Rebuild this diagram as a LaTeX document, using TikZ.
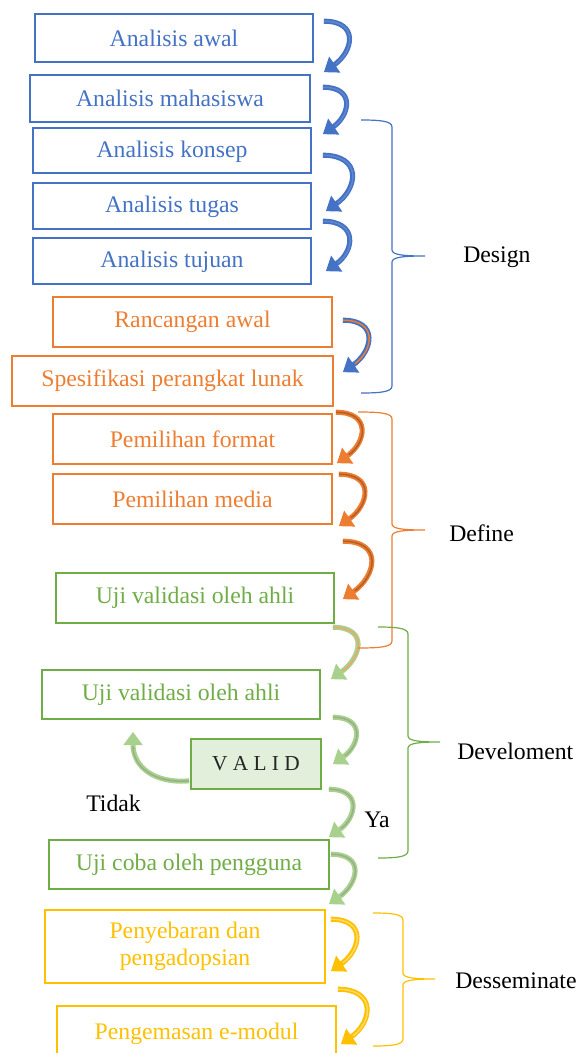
\documentclass[tikz,border=0pt]{standalone}
\usepackage{fontspec}
\setmainfont{Liberation Serif}
\usetikzlibrary{arrows.meta, positioning, calc}
\definecolor{Biru}{RGB}{68,114,196}
\definecolor{Oranye}{RGB}{237,125,49}
\definecolor{Hijau}{RGB}{112,173,71}
\definecolor{HijauMuda}{RGB}{169,209,142}
\definecolor{HijauIsi}{RGB}{226,239,218}
\definecolor{Emas}{RGB}{255,192,0}

\begin{document}
\begin{tikzpicture}[
  x=0.75pt, y=0.75pt,
  font=\fontsize{17.8}{20}\selectfont,
  tahap/.style={draw=#1, text=#1, line width=1.2pt, inner sep=0pt,
                minimum width=208.5pt, minimum height=36pt, align=center},
  rendah/.style={text height=1em, text depth=0pt},
  panah/.style 2 args={draw=#1, line width=3.8pt, looseness=1.8,
                       -{Triangle[width=14pt,length=10pt]},
                       postaction={draw=#2, line width=1.1pt, -, shorten >=11pt}},
  kurung/.style={draw=#1, line width=0.9pt},
  lbl/.style={anchor=west, inner sep=0pt, text=black}
]
\useasboundingbox (0,0) rectangle (578,-1053);

% kotak-kotak tahapan
\node[tahap=Biru] (awal)      at (174,-38)   {Analisis awal};
\node[tahap=Biru, minimum width=210pt, minimum height=35.25pt]
                  (mahasiswa) at (170,-98.5) {Analisis mahasiswa};
\node[tahap=Biru, rendah, minimum height=33.75pt]
                  (konsep)    at (172,-150.5) {Analisis konsep};
\node[tahap=Biru, rendah, minimum height=34.5pt]
                  (tugas)     at (172,-206)  {Analisis tugas};
\node[tahap=Biru, rendah, minimum height=34.5pt]
                  (tujuan)    at (172,-261)  {Analisis tujuan};
\node[tahap=Oranye, minimum width=209.25pt, minimum height=37.5pt]
                  (rancangan) at (192.5,-322) {Rancangan awal};
\node[tahap=Oranye, minimum width=240.75pt, minimum height=37.5pt]
                  (spesifikasi) at (172.5,-381) {Spesifikasi perangkat lunak};
\node[tahap=Oranye, minimum width=209.25pt, minimum height=37.5pt]
                  (format)    at (192.5,-439) {Pemilihan format};
\node[tahap=Oranye, minimum width=209.25pt, minimum height=37.5pt]
                  (media)     at (192.5,-499) {Pemilihan media};
\node[tahap=Hijau, minimum height=37.5pt]
                  (uji1)      at (195,-598)  {Uji validasi oleh ahli};
\node[tahap=Hijau, minimum height=36.75pt]
                  (uji2)      at (181,-694.5) {Uji validasi oleh ahli};
\node[tahap=Hijau, fill=HijauIsi, text=black!85, minimum width=97.5pt,
      minimum height=37.5pt, font=\fontsize{16}{18}\selectfont]
                  (valid)     at (256,-764)  {V A L I D};
\node[tahap=Hijau, minimum width=210pt, minimum height=36.75pt]
                  (ujicoba)   at (189,-864.5) {Uji coba oleh pengguna};
\node[tahap=Emas, minimum width=210pt, minimum height=54.75pt]
                  (penyebaran) at (185,-946.5) {Penyebaran dan\\pengadopsian};
\node[tahap=Emas, minimum width=209.25pt, minimum height=41.25pt]
                  (pengemasan) at (196.5,-1033.5) {Pengemasan e-modul};

% panah lengkung
\draw[panah={Biru}{Biru!85!white}] ([shift={(10,-8)}]awal.north east)
  to[out=0, in=35] ([shift={(13,2)}]mahasiswa.north east);
\draw[panah={Biru}{Biru!85!white}] ([shift={(12,-13)}]mahasiswa.north east)
  to[out=0, in=35] ([shift={(11,-7)}]konsep.north east);
\draw[panah={Biru}{Biru!85!white}] ([shift={(11,-28)}]konsep.north east)
  to[out=0, in=35] ([shift={(14,-29)}]tugas.north east);
\draw[panah={Biru}{Biru!85!white}] ([shift={(11,-39)}]tugas.north east)
  to[out=0, in=35] ([shift={(14,-34)}]tujuan.north east);
\draw[panah={Biru}{Oranye}] ([shift={(10,-24)}]rancangan.north east)
  to[out=0, in=35] ([shift={(9,-17)}]spesifikasi.north east);
\draw[panah={Oranye}{Oranye!75!black}] ([shift={(2,-57)}]spesifikasi.north east)
  to[out=0, in=35] ([shift={(4,-50)}]format.north east);
\draw[panah={Oranye}{Oranye!75!black}] ([shift={(6,-61)}]format.north east)
  to[out=0, in=35] ([shift={(6,-53)}]media.north east);
\draw[panah={Oranye}{Oranye!75!black}] ([shift={(10,-68)}]media.north east)
  to[out=0, in=35] ([shift={(8,-27)}]uji1.north east);
\draw[panah={HijauMuda}{Oranye!70!white}] ([shift={(-2,-55)}]uji1.north east)
  to[out=0, in=35] ([shift={(10,-10)}]uji2.north east);
\draw[panah={HijauMuda}{HijauMuda!60!gray}] ([shift={(12,-48)}]uji2.north east)
  to[out=0, in=35] ([shift={(11,-26)}]valid.north east);
\draw[panah={HijauMuda}{HijauMuda!60!gray}] ([shift={(-1,9)}]valid.south west)
  to[out=185, in=-90, looseness=1.2] ([shift={(-48,-12)}]uji2.south);
\draw[panah={HijauMuda}{HijauMuda!60!gray}] ([shift={(7,-51)}]valid.north east)
  to[out=0, in=35] ([shift={(-1,2)}]ujicoba.north east);
\draw[panah={HijauMuda}{HijauMuda!60!gray}] ([shift={(1,-15)}]ujicoba.north east)
  to[out=0, in=35] ([shift={(3,5)}]penyebaran.north east);
\draw[panah={Emas}{Emas!60!white}] ([shift={(5,-10)}]penyebaran.north east)
  to[out=0, in=35] ([shift={(5,-62)}]penyebaran.north east);
\draw[panah={Emas}{Emas!60!white}] ([shift={(12,-80)}]penyebaran.north east)
  to[out=0, in=35] ([shift={(4,-39)}]pengemasan.north east);

% kurung kurawal
\foreach \lx/\vx/\tx/\ty/\my/\by/\cl in
  {361/392/425/120/256/393/Biru, 358/392/425/412/530/648/Oranye,
   378/408/440/627/742/858/Hijau, 373/403/435/913/979/1046/Emas}
  \draw[kurung=\cl] (\lx,-\ty) .. controls (\vx-12,-\ty) and (\vx,-\ty-1) .. (\vx,-\ty-7)
    -- (\vx,-\my+6) .. controls (\vx,-\my+1) and (\vx+12,-\my) .. (\tx,-\my)
    .. controls (\vx+12,-\my) and (\vx,-\my-1) .. (\vx,-\my-6)
    -- (\vx,-\by+7) .. controls (\vx,-\by+1) and (\vx-12,-\by) .. (\lx,-\by);

% label
\node[lbl] (design)  at (463,-257) {Design};
\node[lbl] (define)  at (449,-533) {Define};
\node[lbl] (develop) at (457,-751) {Develoment};
\node[lbl] (dessem)  at (455,-981) {Desseminate};
\node[lbl] (tidak)   at (86,-803)  {Tidak};
\node[lbl] (ya)      at (364,-820) {Ya};
\end{tikzpicture}
\end{document}
